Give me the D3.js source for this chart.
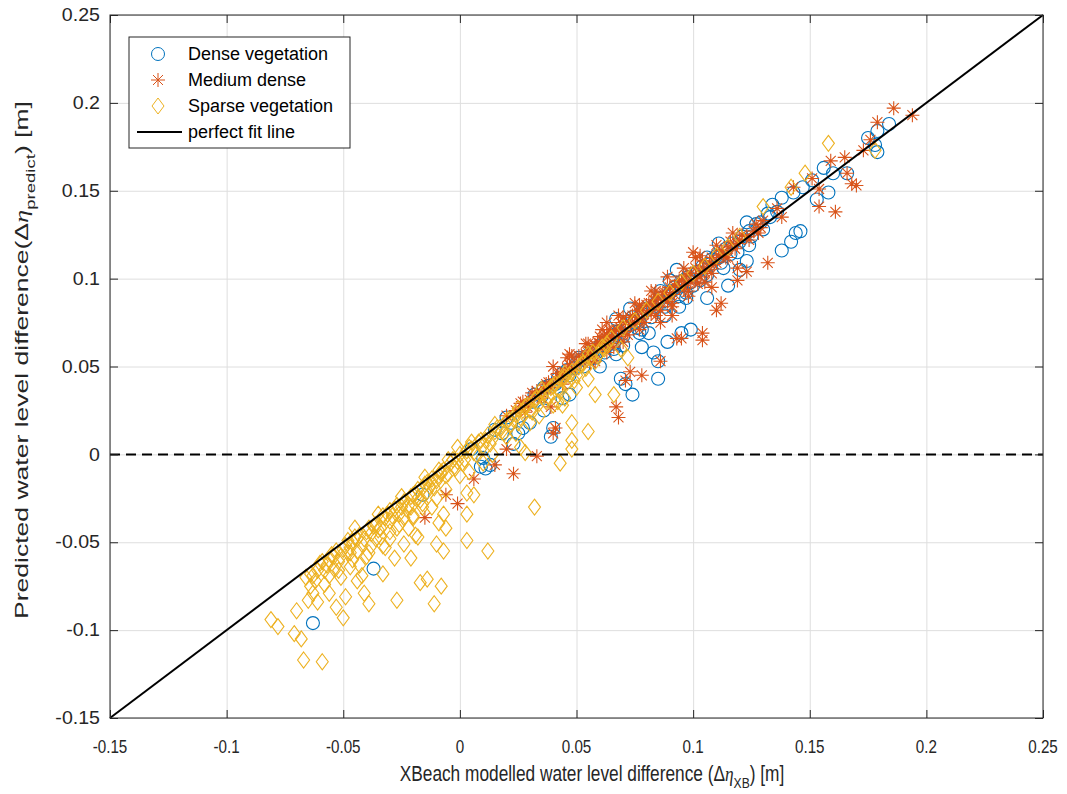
<!DOCTYPE html>
<html>
<head>
  <script src="https://d3js.org/d3.v7.min.js"></script>
  <style>
    body { margin: 0; background: #fff; }
    svg { display: block; }
    .grid line { stroke: #dedede; stroke-width: 1; }
    .grid path { display: none; }
    .ticks path { display: none; }
    .ticks line { stroke: #262626; }
  </style>
</head>
<body>
<div id="chart"></div>
<script>
// tick values
const xTicks = [-0.15, -0.1, -0.05, 0, 0.05, 0.1, 0.15, 0.2, 0.25];
const yTicks = [-0.15, -0.1, -0.05, 0, 0.05, 0.1, 0.15, 0.2, 0.25];

// series: [XBeach, predicted]
const dense = [
  [0.184,0.188],[0.179,0.184],[0.175,0.180],[0.178,0.176],[0.179,0.172],[0.156,0.163],[0.160,0.160],
  [0.166,0.160],[0.151,0.156],[0.147,0.152],[0.158,0.149],[0.153,0.145],[0.143,0.149],[0.138,0.146],
  [0.134,0.142],[0.132,0.137],[0.146,0.127],[0.144,0.126],[0.142,0.121],[0.138,0.116],[0.123,0.132],
  [0.124,0.119],[0.123,0.110],[0.120,0.105],[0.115,0.096],[0.113,0.106],[0.111,0.120],[0.106,0.112],
  [0.103,0.099],[0.106,0.089],[0.099,0.071],[0.095,0.069],[0.089,0.064],[0.081,0.069],[0.093,0.105],
  [0.090,0.099],[0.086,0.093],[0.097,0.089],[0.094,0.084],[0.078,0.061],[0.083,0.058],[0.085,0.053],
  [0.085,0.043],[0.074,0.034],[0.069,0.043],[0.071,0.040],[0.067,0.057],[0.073,0.083],[0.067,0.077],
  [0.077,0.069],[0.047,0.034],[0.044,0.032],[0.040,0.015],[0.039,0.010],[0.030,0.018],[0.036,0.025],
  [0.051,0.055],[0.025,0.012],[0.027,0.015],[0.011,-0.008],[0.009,-0.007],[0.013,-0.006],[-0.016,-0.023],
  [0.023,0.006],[-0.037,-0.065],[-0.063,-0.096],
  [0.032,0.034],[0.035,0.033],[0.038,0.039],[0.041,0.040],[0.044,0.046],[0.047,0.045],[0.050,0.052],
  [0.053,0.050],[0.055,0.056],[0.058,0.055],[0.060,0.062],[0.062,0.058],[0.064,0.066],[0.066,0.063],
  [0.068,0.070],[0.070,0.067],[0.072,0.074],[0.074,0.078],[0.076,0.072],[0.078,0.080],[0.080,0.083],
  [0.082,0.078],[0.084,0.086],[0.086,0.089],[0.088,0.084],[0.090,0.092],[0.092,0.095],[0.094,0.090],
  [0.096,0.099],[0.098,0.101],[0.100,0.096],[0.102,0.104],[0.104,0.107],[0.106,0.102],[0.108,0.111],
  [0.110,0.113],[0.112,0.109],[0.114,0.117],[0.117,0.120],[0.119,0.115],[0.121,0.124],[0.124,0.127],
  [0.127,0.131],[0.130,0.128],[0.133,0.135],[0.020,0.021],[0.015,0.014],[0.022,0.018],[0.005,0.003],
  [0.060,0.050],[0.066,0.060],[0.010,-0.002],[0.018,0.012],
  [0.031,0.030],[0.036,0.038],[0.042,0.043],[0.046,0.048],[0.049,0.049],[0.052,0.054],[0.056,0.058],
  [0.059,0.060],[0.063,0.064],[0.067,0.068],[0.071,0.072],[0.075,0.075],[0.079,0.081],[0.083,0.084],
  [0.087,0.087],[0.091,0.093],[0.095,0.096],[0.099,0.098],[0.103,0.101],[0.107,0.108],[0.111,0.112],
  [0.116,0.114],[0.120,0.121],[0.125,0.124],[0.129,0.132],[0.136,0.138],[0.070,0.062],[0.078,0.071],
  [0.088,0.079],[0.097,0.092]
];

const medium = [
  [0.186,0.197],[0.194,0.193],[0.179,0.189],[0.176,0.179],[0.173,0.173],[0.165,0.169],[0.159,0.167],
  [0.166,0.160],[0.170,0.153],[0.168,0.154],[0.154,0.141],[0.161,0.138],[0.154,0.151],[0.151,0.157],
  [0.143,0.152],[0.138,0.135],[0.136,0.140],[0.129,0.129],[0.132,0.109],[0.128,0.126],[0.119,0.106],
  [0.123,0.104],[0.119,0.099],[0.112,0.086],[0.110,0.082],[0.104,0.069],[0.104,0.065],[0.095,0.066],
  [0.100,0.115],[0.101,0.112],[0.084,0.093],[0.086,0.075],[0.091,0.079],[0.108,0.095],[0.115,0.112],
  [0.046,0.055],[0.086,0.053],[0.078,0.045],[0.073,0.047],[0.071,0.042],[0.067,0.027],[0.068,0.021],
  [0.093,0.066],[0.063,0.075],[0.041,0.015],[0.040,0.012],[0.033,-0.001],[0.023,-0.011],[0.015,-0.006],
  [0.006,-0.014],[-0.001,-0.028],[-0.006,-0.023],[-0.015,-0.036],[0.020,0.003],[0.039,0.027],
  [0.020,0.022],[0.024,0.025],[0.027,0.030],[0.030,0.031],[0.033,0.036],[0.036,0.037],[0.038,0.041],
  [0.041,0.043],[0.043,0.046],[0.045,0.047],[0.047,0.051],[0.050,0.052],[0.052,0.055],[0.054,0.057],
  [0.056,0.058],[0.058,0.062],[0.060,0.063],[0.062,0.064],[0.063,0.068],[0.065,0.067],[0.067,0.071],
  [0.069,0.072],[0.071,0.075],[0.073,0.074],[0.074,0.079],[0.076,0.078],[0.078,0.082],[0.080,0.081],
  [0.081,0.086],[0.083,0.085],[0.085,0.089],[0.087,0.088],[0.088,0.092],[0.090,0.091],[0.092,0.096],
  [0.094,0.095],[0.095,0.099],[0.097,0.098],[0.099,0.103],[0.101,0.100],[0.103,0.106],[0.105,0.104],
  [0.107,0.109],[0.109,0.108],[0.111,0.113],[0.113,0.114],[0.115,0.118],[0.118,0.117],[0.120,0.122],
  [0.123,0.124],[0.126,0.127],[0.060,0.067],[0.064,0.071],[0.070,0.078],[0.055,0.063],[0.048,0.056],
  [0.077,0.085],[0.084,0.090],[0.091,0.086],[0.098,0.093],[0.072,0.068],[0.066,0.061],[0.102,0.097],
  [0.086,0.082],[0.079,0.075],[0.108,0.103],[0.058,0.053],[0.044,0.040],[0.035,0.032],[0.028,0.024],
  [0.026,0.029],[0.029,0.027],[0.031,0.035],[0.034,0.033],[0.037,0.040],[0.039,0.038],[0.042,0.046],
  [0.044,0.044],[0.046,0.049],[0.049,0.048],[0.051,0.056],[0.053,0.052],[0.055,0.059],[0.057,0.056],
  [0.059,0.064],[0.061,0.060],[0.062,0.067],[0.064,0.063],[0.066,0.070],[0.068,0.067],[0.069,0.075],
  [0.071,0.070],[0.073,0.078],[0.075,0.074],[0.076,0.082],[0.078,0.077],[0.080,0.085],[0.082,0.080],
  [0.083,0.088],[0.085,0.084],[0.087,0.092],[0.089,0.087],[0.090,0.095],[0.092,0.091],[0.094,0.099],
  [0.096,0.094],[0.097,0.102],[0.099,0.098],[0.101,0.106],[0.103,0.101],[0.104,0.110],[0.106,0.105],
  [0.108,0.112],[0.110,0.109],[0.112,0.116],[0.114,0.112],[0.116,0.121],[0.119,0.120],[0.121,0.125],
  [0.124,0.122],[0.127,0.131],[0.130,0.133],[0.075,0.086],[0.082,0.093],[0.089,0.101],[0.096,0.106],
  [0.068,0.079],[0.061,0.071],[0.054,0.063],[0.047,0.057],[0.040,0.050],[0.103,0.113],[0.110,0.119],
  [0.117,0.126],[0.070,0.064],[0.077,0.071],[0.084,0.079],[0.091,0.084],[0.098,0.090],[0.105,0.098],
  [0.063,0.058],[0.056,0.052]
];

const sparse = [
  [-0.081,-0.094],[-0.078,-0.098],[-0.071,-0.102],[-0.068,-0.105],[-0.067,-0.117],[-0.059,-0.118],
  [-0.070,-0.089],[-0.065,-0.083],[-0.063,-0.079],[-0.064,-0.075],[-0.063,-0.069],[-0.061,-0.084],
  [-0.056,-0.079],[-0.056,-0.069],[-0.054,-0.065],[-0.051,-0.070],[-0.053,-0.087],[-0.050,-0.093],
  [-0.049,-0.081],[-0.047,-0.064],[-0.047,-0.056],[-0.048,-0.049],[-0.044,-0.055],[-0.044,-0.072],
  [-0.041,-0.079],[-0.039,-0.085],[-0.042,-0.069],[-0.039,-0.056],[-0.036,-0.048],[-0.034,-0.047],
  [-0.032,-0.053],[-0.033,-0.068],[-0.030,-0.044],[-0.027,-0.042],[-0.028,-0.059],[-0.027,-0.083],
  [-0.021,-0.059],[-0.024,-0.051],[-0.024,-0.036],[-0.020,-0.035],[-0.018,-0.047],[-0.017,-0.073],
  [-0.014,-0.071],[-0.011,-0.085],[-0.010,-0.051],[-0.008,-0.075],[-0.007,-0.055],[-0.006,-0.042],
  [-0.007,-0.034],[-0.016,-0.028],[-0.021,-0.030],[-0.012,-0.017],[-0.008,-0.011],[-0.018,-0.020],
  [-0.030,-0.032],[0.032,-0.030],[0.012,-0.055],[0.003,-0.049],[0.003,-0.034],[-0.001,0.004],
  [0.006,-0.023],[-0.009,-0.039],[-0.019,-0.046],[0.043,-0.005],[0.048,0.003],[0.028,0.001],
  [0.003,-0.022],[-0.014,-0.016],[-0.009,-0.009],[0.026,0.004],[0.048,0.018],[0.058,0.034],
  [0.066,0.034],[0.055,0.013],[0.048,0.008],[0.072,0.055],[0.069,0.060],[0.044,0.028],
  [0.158,0.177],[0.148,0.160],[0.142,0.152],[0.130,0.141],[0.178,0.173],
  [-0.060,-0.062],[-0.058,-0.066],[-0.056,-0.060],[-0.054,-0.058],[-0.052,-0.061],[-0.050,-0.054],
  [-0.048,-0.056],[-0.046,-0.050],[-0.044,-0.048],[-0.042,-0.051],[-0.040,-0.044],[-0.038,-0.045],
  [-0.036,-0.040],[-0.034,-0.042],[-0.032,-0.036],[-0.030,-0.038],[-0.028,-0.031],[-0.026,-0.034],
  [-0.024,-0.027],[-0.022,-0.029],[-0.020,-0.023],[-0.018,-0.025],[-0.016,-0.019],[-0.014,-0.021],
  [-0.012,-0.014],[-0.010,-0.015],[-0.008,-0.010],[-0.006,-0.012],[-0.004,-0.005],[-0.002,-0.008],
  [0.000,0.000],[0.002,-0.003],[0.004,0.004],[0.006,0.001],[0.008,0.007],[0.010,0.005],[0.012,0.011],
  [0.014,0.009],[0.016,0.015],[0.018,0.013],[0.020,0.019],[0.022,0.017],[0.024,0.023],[0.026,0.021],
  [0.028,0.027],[0.030,0.025],[0.032,0.031],[0.034,0.029],[0.036,0.035],[0.038,0.033],[0.040,0.039],
  [0.042,0.037],[0.044,0.043],[0.046,0.041],[0.048,0.047],[0.050,0.045],[0.052,0.051],[0.054,0.049],
  [0.056,0.055],[0.058,0.053],[0.060,0.058],[0.062,0.060],[-0.066,-0.070],[-0.062,-0.072],
  [-0.045,-0.042],[-0.035,-0.034],[-0.025,-0.024],[-0.015,-0.013],[-0.005,-0.003],[0.005,0.007],
  [0.015,0.017],[0.025,0.026],[0.035,0.037],[0.045,0.046],[0.055,0.057],[0.065,0.066],[0.070,0.072],
  [0.075,0.076],[0.080,0.082],[0.085,0.087],[0.090,0.092],[0.095,0.098],[0.100,0.103],[0.105,0.107],
  [0.110,0.113],[0.115,0.118],[0.120,0.124],[0.020,0.010],[0.030,0.018],[0.010,-0.005],[0.040,0.028],
  [0.000,-0.012],[-0.010,-0.025],[-0.020,-0.036],[-0.030,-0.048],[-0.040,-0.058],[0.050,0.038],
  [0.055,0.043],[0.045,0.032],
  [-0.064,-0.068],[-0.061,-0.066],[-0.059,-0.061],[-0.057,-0.063],[-0.055,-0.057],[-0.053,-0.055],
  [-0.051,-0.058],[-0.049,-0.052],[-0.047,-0.053],[-0.045,-0.047],[-0.043,-0.046],[-0.041,-0.048],
  [-0.039,-0.042],[-0.037,-0.041],[-0.035,-0.043],[-0.033,-0.035],[-0.031,-0.034],[-0.029,-0.035],
  [-0.027,-0.029],[-0.025,-0.030],[-0.023,-0.031],[-0.021,-0.024],[-0.019,-0.022],[-0.017,-0.026],
  [-0.015,-0.017],[-0.013,-0.018],[-0.011,-0.019],[-0.009,-0.012],[-0.007,-0.009],[-0.005,-0.011],
  [-0.003,-0.003],[-0.001,-0.004],[0.001,-0.005],[0.003,0.002],[0.005,0.003],[0.007,0.000],
  [0.009,0.008],[0.011,0.008],[0.013,0.006],[0.015,0.013],[0.017,0.015],[0.019,0.012],[0.021,0.020],
  [0.023,0.020],[0.025,0.018],[0.027,0.025],[0.029,0.028],[0.031,0.024],[0.033,0.032],[0.035,0.033],
  [0.037,0.030],[0.039,0.038],[0.041,0.040],[0.043,0.036],[0.045,0.044],[0.047,0.045],[0.049,0.042],
  [0.051,0.050],[0.053,0.052],[0.057,0.058],[0.059,0.056],[0.061,0.061],[0.063,0.063],[-0.052,-0.066],
  [-0.046,-0.060],[-0.038,-0.052],[-0.026,-0.040],[-0.016,-0.030],[-0.006,-0.020],[0.004,-0.010],
  [0.014,0.000],[0.024,0.012],[0.034,0.022],[0.042,0.030],[-0.058,-0.074],[-0.043,-0.063],
  [-0.033,-0.052],[-0.022,-0.042],[-0.012,-0.030]
];

const width = 1067, height = 794;
const mLeft = 110, mRight = 1043, mTop = 15, mBottom = 718;

const svg = d3.select("#chart").append("svg")
  .attr("width", width).attr("height", height);

const x = d3.scaleLinear().domain([-0.15, 0.25]).range([mLeft, mRight]);
const y = d3.scaleLinear().domain([-0.15, 0.25]).range([mBottom, mTop]);
const fmt = d => String(+d.toFixed(2));

// grid
svg.append("g").attr("class", "grid")
  .attr("transform", `translate(0,${mBottom})`)
  .call(d3.axisBottom(x).tickValues(xTicks).tickSize(-(mBottom - mTop)).tickFormat(""));
svg.append("g").attr("class", "grid")
  .attr("transform", `translate(${mLeft},0)`)
  .call(d3.axisLeft(y).tickValues(yTicks).tickSize(-(mRight - mLeft)).tickFormat(""));

// markers
const blue = "#0072BD", orange = "#D95319", yellow = "#EDB120";
const plot = svg.append("g");

plot.append("g").selectAll("circle").data(dense).join("circle")
  .attr("cx", d => x(d[0])).attr("cy", d => y(d[1])).attr("r", 6.5)
  .attr("fill", "none").attr("stroke", blue).attr("stroke-width", 1.1);

const star = "M-7,0H7M0,-7V7M-5,-5L5,5M-5,5L5,-5";
plot.append("g").selectAll("path").data(medium).join("path")
  .attr("transform", d => `translate(${x(d[0])},${y(d[1])})`)
  .attr("d", star).attr("fill", "none").attr("stroke", orange).attr("stroke-width", 1.1);

const diamond = "M0,-8L6,0L0,8L-6,0Z";
plot.append("g").selectAll("path").data(sparse).join("path")
  .attr("transform", d => `translate(${x(d[0])},${y(d[1])})`)
  .attr("d", diamond).attr("fill", "none").attr("stroke", yellow).attr("stroke-width", 1.1);

// perfect fit line and zero line
svg.append("line")
  .attr("x1", x(-0.15)).attr("y1", y(-0.15)).attr("x2", x(0.25)).attr("y2", y(0.25))
  .attr("stroke", "#000").attr("stroke-width", 2);
svg.append("line")
  .attr("x1", x(-0.15)).attr("y1", y(0)).attr("x2", x(0.25)).attr("y2", y(0))
  .attr("stroke", "#000").attr("stroke-width", 2).attr("stroke-dasharray", "10,6");

// box and inward ticks
svg.append("rect").attr("x", mLeft).attr("y", mTop)
  .attr("width", mRight - mLeft).attr("height", mBottom - mTop)
  .attr("fill", "none").attr("stroke", "#262626").attr("stroke-width", 1);

const tk = 8;
svg.append("g").attr("class", "ticks").attr("transform", `translate(0,${mBottom})`)
  .call(d3.axisBottom(x).tickValues(xTicks).tickSize(-tk).tickFormat(""));
svg.append("g").attr("class", "ticks").attr("transform", `translate(0,${mTop})`)
  .call(d3.axisTop(x).tickValues(xTicks).tickSize(-tk).tickFormat(""));
svg.append("g").attr("class", "ticks").attr("transform", `translate(${mLeft},0)`)
  .call(d3.axisLeft(y).tickValues(yTicks).tickSize(-tk).tickFormat(""));
svg.append("g").attr("class", "ticks").attr("transform", `translate(${mRight},0)`)
  .call(d3.axisRight(y).tickValues(yTicks).tickSize(-tk).tickFormat(""));

// tick labels (x labels look condensed in the original, y labels wide)
svg.append("g").selectAll("text").data(xTicks).join("text")
  .attr("transform", d => `translate(${x(d)},753) scale(0.8,1)`)
  .attr("text-anchor", "middle")
  .style("font-family", "'Liberation Sans', Arial, sans-serif")
  .style("font-size", "19px").attr("fill", "#262626")
  .text(fmt);
svg.append("g").selectAll("text").data(yTicks).join("text")
  .attr("transform", d => `translate(100,${y(d)}) scale(1.12,1)`)
  .attr("dy", "0.35em")
  .attr("text-anchor", "end")
  .style("font-family", "'Liberation Sans', Arial, sans-serif")
  .style("font-size", "17.5px").attr("fill", "#262626")
  .text(fmt);

// axis titles
function title(t, main, sub) {
  t.style("font-family", "'Liberation Sans', Arial, sans-serif").attr("fill", "#262626");
  t.append("tspan").text(main);
  t.append("tspan").style("font-style", "italic").style("font-family", "'Liberation Serif', serif").text("η");
  t.append("tspan").attr("dy", 7).style("font-size", "0.7em").text(sub);
  t.append("tspan").attr("dy", -7).text(") [m]");
}

const xt = svg.append("text").attr("text-anchor", "middle").style("font-size", "22px");
title(xt, "XBeach modelled water level difference (Δ", "XB");
const xw = xt.node().getBBox().width;
xt.attr("transform", `translate(592,781) scale(${385 / xw},1)`);

const yt = svg.append("text").attr("text-anchor", "middle").style("font-size", "18.5px");
title(yt, "Predicted water level difference(Δ", "predict");
const yw = yt.node().getBBox().width;
yt.attr("transform", `translate(28,360) rotate(-90) scale(${518 / yw},1)`);

// legend
const lg = svg.append("g");
lg.append("rect").attr("x", 129).attr("y", 37).attr("width", 221).attr("height", 111)
  .attr("fill", "#fff").attr("stroke", "#262626").attr("stroke-width", 1);
const items = ["Dense vegetation", "Medium dense", "Sparse vegetation", "perfect fit line"];
const rowY = [54, 80, 106, 132];
lg.append("circle").attr("cx", 158).attr("cy", rowY[0]).attr("r", 6.5)
  .attr("fill", "none").attr("stroke", blue);
lg.append("path").attr("transform", `translate(158,${rowY[1]})`).attr("d", star)
  .attr("fill", "none").attr("stroke", orange);
lg.append("path").attr("transform", `translate(158,${rowY[2]})`).attr("d", diamond)
  .attr("fill", "none").attr("stroke", yellow);
lg.append("line").attr("x1", 137).attr("x2", 182).attr("y1", rowY[3]).attr("y2", rowY[3])
  .attr("stroke", "#000").attr("stroke-width", 2);
lg.selectAll("text").data(items).join("text")
  .attr("x", 188).attr("y", (d, i) => rowY[i]).attr("dy", "0.35em")
  .style("font-family", "'Liberation Sans', Arial, sans-serif")
  .style("font-size", "18px").attr("fill", "#000")
  .text(d => d);
</script>
</body>
</html>
